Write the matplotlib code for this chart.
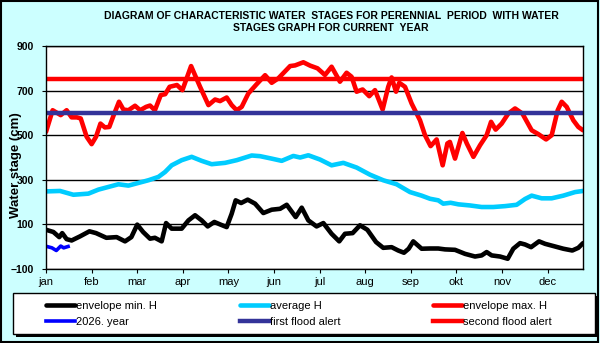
import numpy as np
import matplotlib.pyplot as plt
from matplotlib.patches import Rectangle

plt.rcParams['font.family'] = ['Liberation Sans', 'DejaVu Sans']

# Water stages in cm, x = day of year
max_days = [0, 4.5, 10, 14, 17.4, 21, 23.6, 27.6, 31, 34, 37, 40, 43, 46, 49.6, 52.6,
            56, 60.5, 64, 68, 70.7, 74, 78, 81, 84, 89, 92.7, 98.6, 104.7, 110.4,
            114.9, 118.3, 122.8, 126.2, 129.6, 133, 137.5, 143.2, 148.9, 153.4, 157.9,
            165.9, 169.3, 174.9, 179.5, 184.5, 189.6, 194.1, 199.8, 204.3, 207.7,
            211.1, 215.2, 219.7, 223.6, 228.8, 232.6, 234.9, 237.9, 240.1, 244, 248.5,
            254.2, 257.6, 261.4, 265.5, 269.6, 272.8, 274.5, 278, 283, 286, 290.5, 295,
            299.5, 302.5, 305.6, 309.7, 314.2, 318.8, 323.8, 330.1, 334.6, 339.9,
            343.7, 347.8, 350.5, 353.9, 358.4, 361.8, 365]
max_h = [515, 612, 590, 612, 580, 580, 575, 493, 460, 493, 552, 535, 537, 590, 650, 615,
         612, 632, 612, 627, 633, 612, 680, 684, 717, 725, 702, 810, 717, 635,
         660, 653, 669, 635, 612, 627, 687, 729, 769, 735, 755,
         810, 813, 827, 812, 800, 770, 807, 740, 780, 762,
         695, 705, 675, 702, 615, 717, 759, 695, 735, 717, 642,
         567, 500, 451, 481, 365, 463, 470, 395, 510, 463, 403, 455,
         500, 560, 525, 552, 597, 620, 597, 522, 505, 481,
         500, 612, 650, 627, 567, 537, 522]

avg_days = [0, 9.5, 18.6, 28.8, 35.6, 42.4, 49.2, 56, 62.8, 69.6, 76.4, 80.9, 85.4,
            92.2, 99, 105.8, 112.6, 121.7, 129.6, 139.8, 145.5, 153.4, 160.2, 168.1,
            172.7, 178.3, 186.2, 194.1, 202.1, 211.1, 220.2, 229.2, 238.3, 247.4,
            255.3, 261, 266.6, 270, 275, 280.3, 288.2, 296.1, 304, 312, 319.9, 325.6,
            330.1, 336.9, 343.7, 351.6, 359.6, 365]
avg_h = [248, 250, 233, 238, 256, 268, 280, 274, 286, 298, 313, 335, 365,
         388, 403, 385, 370, 376, 388, 409, 406, 395, 385, 407,
         400, 410, 391, 365, 376, 355, 323, 298, 280, 245,
         229, 215, 208, 193, 197, 190, 185, 178, 178, 182, 188, 214,
         229, 217, 217, 229, 245, 250]

min_days = [0, 5, 9, 11, 14, 17.4, 23, 29.5, 34, 41, 48, 53.7, 58, 62, 66, 70.7, 74,
            78.6, 81.6, 85.4, 92.2, 96.8, 101.3, 105.8, 109.9, 114.4, 118.3, 122.8,
            126.2, 128.9, 132.6, 137.1, 142.1, 147.7, 153.4, 159.1, 163.6, 169.7,
            173.8, 178.3, 183.9, 188.5, 194.1, 199.3, 203.2, 208.4, 213.4, 218.4,
            224.3, 229.2, 234.9, 239.4, 243.3, 246.5, 249.6, 255.3, 261, 266.6,
            271.2, 278, 284.8, 291.6, 296.1, 299.5, 302.9, 308.6, 313.8, 317.6,
            322.2, 325.6, 329.7, 335.1, 339.2, 346, 351.6, 357.7, 361.8, 365]
min_h = [76, 66, 43, 61, 34, 28, 46, 69, 61, 40, 43, 24, 43, 99, 66, 36, 40,
         24, 106, 81, 81, 118, 141, 118, 91, 111, 100, 88,
         148, 208, 196, 211, 193, 151, 166, 170, 188, 133,
         175, 118, 91, 106, 58, 24, 58, 61, 96, 76,
         21, -5, -2, -17, -27, -9, 24, -9, -8, -8,
         -12, -14, -32, -44, -39, -24, -39, -44, -54, -9,
         16, 10, -2, 24, 13, 1, -9, -17, -5, 16]

cur_days = [0, 4, 7, 10, 12, 15]
cur_h = [2, -5, -17, 3, -5, 1]

first_alert = 600
second_alert = 750

month_ticks = np.arange(0, 365, 31)
months = ['jan', 'feb', 'mar', 'apr', 'may', 'jun', 'jul', 'aug', 'sep', 'okt',
          'nov', 'dec']

bg = '#ccffff'
fig = plt.figure(figsize=(6, 3.43), dpi=100, facecolor=bg)
fig.patches.append(Rectangle((0.002, 0.003), 0.995, 0.994, transform=fig.transFigure,
                             fill=False, edgecolor='black', lw=1.5))
ax = fig.add_axes([0.0767, 0.2157, 0.895, 0.6502])

style = dict(lw=3.3, solid_joinstyle='round', solid_capstyle='round')
l_min, = ax.plot(min_days, min_h, color='black', **style)
l_avg, = ax.plot(avg_days, avg_h, color='#00ccff', **style)
l_max, = ax.plot(max_days, max_h, color='#ff0000', **style)
l_cur, = ax.plot(cur_days, cur_h, color='#0000ff', lw=2.6, solid_joinstyle='round')
l_first = ax.axhline(first_alert, color='#333399', lw=3.2)
l_second = ax.axhline(second_alert, color='#ff0000', lw=3.2)

ax.set_xlim(0, 365)
ax.set_ylim(-100, 900)
ax.set_yticks(np.arange(-100, 901, 200))
ax.set_xticks(month_ticks)
ax.set_xticklabels(months)
ax.yaxis.grid(True, color='black', lw=1)
ax.tick_params(axis='x', length=3, pad=3, labelsize=8)
ax.tick_params(axis='y', length=3, pad=6, labelsize=7.5)
for t in ax.get_yticklabels():
    t.set_fontweight('bold')
for s in ax.spines.values():
    s.set_linewidth(1)

fig.text(0.552, 1 - 22 / 343,
         'DIAGRAM OF CHARACTERISTIC WATER  STAGES FOR PERENNIAL  PERIOD  WITH WATER\n'
         'STAGES GRAPH FOR CURRENT  YEAR',
         ha='center', va='center', fontsize=7.5, fontweight='bold', linespacing=1.15)
fig.text(16 / 600, 1 - 165 / 343, 'Water stage (cm)', rotation=90, ha='center',
         va='center', fontsize=9.5, fontweight='bold')

# legend frame with black shadow
fig.patches.append(Rectangle((16 / 600, 1 - 337 / 343), 582 / 600, 41 / 343,
                             transform=fig.transFigure, facecolor='black', lw=0))
fig.patches.append(Rectangle((13 / 600, 1 - 334 / 343), 582 / 600, 41 / 343,
                             transform=fig.transFigure, facecolor='white',
                             edgecolor='black', lw=1))
cols = [(l_min, 'envelope min. H', l_cur, '2026. year', 46),
        (l_avg, 'average H', l_first, 'first flood alert', 240),
        (l_max, 'envelope max. H', l_second, 'second flood alert', 433)]
for h1, t1, h2, t2, x0 in cols:
    fig.legend([h1, h2], [t1, t2], loc='center left',
               bbox_to_anchor=(x0 / 600, 1 - 314 / 343), frameon=False, fontsize=8,
               handlelength=2.6, handletextpad=0.1, labelspacing=0.55,
               borderpad=0, borderaxespad=0)

fig.savefig('out.png', dpi=100, facecolor=bg)
